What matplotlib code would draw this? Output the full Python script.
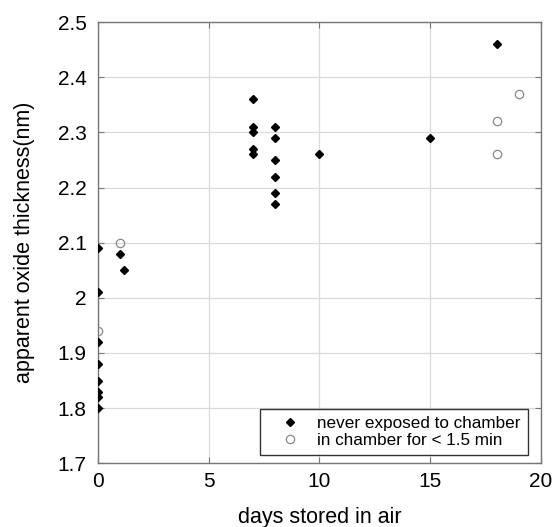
import numpy as np
import matplotlib.pyplot as plt
from matplotlib import rc

rc('font', **{'family': 'sans-serif', 'sans-serif': ['Liberation Sans'], 'size': 13})

# samples never exposed to the chamber
days_never = [0, 0, 0, 0, 0, 0, 0, 0, 1, 1.2,
              7, 7, 7, 7, 7,
              8, 8, 8, 8, 8, 8,
              10, 15, 18]
thick_never = [2.09, 2.01, 1.92, 1.88, 1.85, 1.83, 1.82, 1.80, 2.08, 2.05,
               2.36, 2.31, 2.30, 2.27, 2.26,
               2.31, 2.29, 2.25, 2.22, 2.19, 2.17,
               2.26, 2.29, 2.46]

# samples held in the chamber for less than 1.5 min
days_chamber = [0, 1, 18, 18, 19]
thick_chamber = [1.94, 2.10, 2.32, 2.26, 2.37]

xticks = [0, 5, 10, 15, 20]
yticks = [1.7, 1.8, 1.9, 2.0, 2.1, 2.2, 2.3, 2.4, 2.5]
ylabels = ['1.7', '1.8', '1.9', '2', '2.1', '2.2', '2.3', '2.4', '2.5']

fig = plt.figure(figsize=(5.55, 5.27), dpi=100)
ax = fig.add_axes([0.176, 0.121, 0.799, 0.837])

ax.plot(days_never, thick_never, linestyle='none', marker='D', markersize=4.5,
        color='black', label='never exposed to chamber', zorder=3)
ax.plot(days_chamber, thick_chamber, linestyle='none', marker='o', markersize=6,
        markerfacecolor='none', markeredgecolor='#888888', markeredgewidth=0.9,
        label='in chamber for < 1.5 min', zorder=3)

ax.set_xlim(0, 20)
ax.set_ylim(1.7, 2.5)
ax.set_xticks(xticks)
ax.set_yticks(yticks)
ax.set_yticklabels(ylabels)
ax.grid(True, color='#d9d9d9', linewidth=0.9)
ax.set_axisbelow(True)
ax.tick_params(direction='in', length=4, top=True, right=True, color='#777777',
               labelsize=15)
ax.tick_params(axis='y', pad=8)
ax.tick_params(axis='x', pad=6)
for s in ax.spines.values():
    s.set_color('#777777')
    s.set_linewidth(1.0)

ax.set_xlabel('days stored in air', fontsize=15.5, va='center')
ax.set_ylabel('apparent oxide thickness(nm)', fontsize=15.5, va='center')
ax.xaxis.set_label_coords(0.5, -0.122)
ax.yaxis.set_label_coords(-0.166, 0.5)

leg = ax.legend(loc='lower right', bbox_to_anchor=(0.9707, 0.018), fontsize=12.3,
                frameon=True, fancybox=False, handletextpad=0.3,
                borderpad=0.45, labelspacing=0.08, handlelength=2.6,
                borderaxespad=0)
leg.get_frame().set_edgecolor('black')
leg.get_frame().set_linewidth(1.0)

plt.savefig('out.png', dpi=100)
